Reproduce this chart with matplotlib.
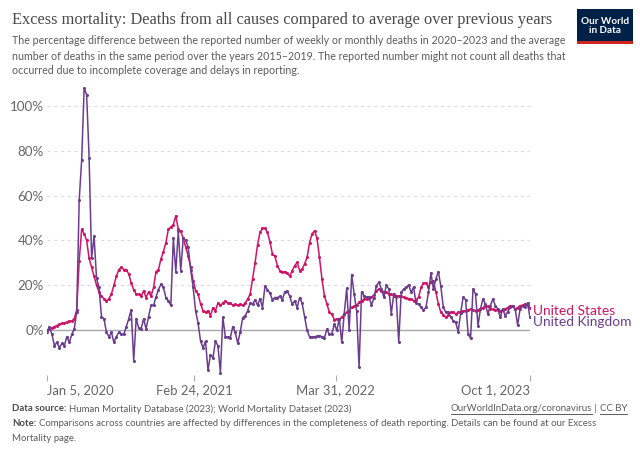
import matplotlib
matplotlib.use("Agg")
import matplotlib.pyplot as plt
import matplotlib.dates as mdates
from matplotlib.patches import Rectangle
from matplotlib.lines import Line2D
import pandas as pd

# ---------------- data ----------------
start_date = "2020-01-05"
us_values = [
    0, 0.5, 1, 1.5, 2, 2.5, 3, 3, 3.5, 4, 4, 5, 9, 31, 45, 43, 40, 32, 28, 24,
    20, 17, 15, 14, 13, 14, 16, 20, 24, 27, 28, 27, 27, 25, 21, 18, 16, 16, 15, 17.5,
    14.5, 17, 15, 19, 26, 27, 31.7, 35, 39, 45, 46, 47, 51, 45, 44, 41, 37, 33, 28, 22,
    17.6, 16, 11.6, 8.6, 7.9, 8.6, 6.4, 10, 8.6, 12, 11, 12, 13, 12, 12, 11, 11.5, 11, 11.5, 11,
    12, 13.8, 16, 22.8, 30, 38, 43.6, 45.4, 45.4, 43.6, 39.4, 34, 33, 28.7, 26.5, 25.8, 26, 25.5, 24, 26.5,
    28.7, 30.2, 26.5, 27.2, 29.5, 32.4, 39, 42.9, 44.3, 41, 32.4, 22.8, 15.3, 11.6, 7.9, 7, 4.6, 5, 5, 5.6,
    7, 7.9, 8.6, 10.1, 10.5, 11, 12.4, 13, 13.7, 14, 14.4, 14.8, 15.6, 17.6, 18.3, 17.6, 17.1, 16.8, 16, 16,
    15.3, 15.3, 15.3, 15, 14.6, 14.3, 14, 13.8, 13, 13.5, 14.6, 19, 21, 21, 19, 21.5, 22, 17, 11.6, 7.9,
    6.7, 5.6, 6.7, 7.9, 8.2, 7.1, 7.9, 8.2, 8.6, 8.6, 9, 9.4, 9, 8.6, 9, 9.4, 10, 10.9, 10.5, 9.4,
    9.2, 9, 8.8, 8.6, 9, 9.4, 10, 10.9, 10.5, 9.4, 10, 10.9, 11, 11.6, 11, 10,
]
uk_values = [
    -1, 1.5, -2, -7, -5.5, -8, -6, -7, -3, -5.5, -2, 0.5, 8, 58, 76, 108, 105, 77, 32, 42,
    23, 19, 6, 5, -1, -3, -1, -5.5, -3, -1, -2, -2, 1.5, 5, 9, -13.7, 5, 1, 0.5, 5,
    0.5, 6, 11, 11, 14.7, 18, 20.5, 19, 14.5, 13, 11, 41, 26, 44, 26.5, 41, 40, 37, 27, 19,
    8.5, 3, -5, -8, -5, -18, -11, -12.5, -5, -7, -19, 5.6, -3, -3, -3.5, 1.5, -1, -6, -1, 5.5,
    6.4, 8.6, 12, 11.6, 13.5, 11, 14, 10, 19.6, 18, 16.5, 13.5, 14.5, 14.5, 15, 13.5, 17, 17.5, 15, 11.5,
    13, 10, 14.5, 12, 6, -0.2, -3, -3, -3, -2.8, -2.5, -3, -3.5, 0.4, -2, -1.7, 2.7, -0.2, 5.1, -5.5,
    7.3, 18.6, -0.2, 24.7, 16.1, 8.6, -16.7, 17.1, 15.3, 14.6, 14.6, 11.2, 14.2, 19.8, 21.3, 18.3, 14.6, 20.1, 18.3, 7.3,
    16.1, 14.6, -5.5, 16.8, 18.3, 19.1, 20.1, 16.8, 19.1, 12.0, 11.6, 10.1, 8.9, 10.1, 16.8, 25.5, 18.3, 22.8, 26.1, 19.5,
    10.1, 7.9, 8.2, 5.7, 4.2, 3.4, -0.7, 7.6, 14.6, 13.6, -1.8, -3.7, 18.3, 16.1, 1.9, 9.4, 13.8, 11.6, 7.1, 10.9,
    13.8, 10.9, 9.4, 5.6, 9.4, 6.4, 8.2, 10.1, 10.9, 9.4, 2.2, 9.4, 10.9, 10.1, 12.1, 5.6,
]
series_names = ["United States", "United Kingdom"]
y_ticks = [0, 20, 40, 60, 80, 100]
y_tick_labels = ["0%", "20%", "40%", "60%", "80%", "100%"]
x_tick_dates = ["2020-01-05", "2021-02-24", "2022-03-31", "2023-10-01"]
x_tick_labels = ["Jan 5, 2020", "Feb 24, 2021", "Mar 31, 2022", "Oct 1, 2023"]

title = "Excess mortality: Deaths from all causes compared to average over previous years"
subtitle_lines = [
    "The percentage difference between the reported number of weekly or monthly deaths in 2020\u20132023 and the average",
    "number of deaths in the same period over the years 2015\u20132019. The reported number might not count all deaths that",
    "occurred due to incomplete coverage and delays in reporting.",
]
source_text = "Human Mortality Database (2023); World Mortality Dataset (2023)"
note_lines = [
    "Comparisons across countries are affected by differences in the completeness of death reporting. Details can be found at our Excess",
    "Mortality page.",
]

US_C = "#ce1466"
UK_C = "#6b3d8f"
TXT = "#5b5b5b"

dates = pd.date_range(start_date, periods=len(us_values), freq="7D")

W, H = 640, 452
fig = plt.figure(figsize=(W / 100, H / 100), dpi=100)
renderer = fig.canvas.get_renderer()


def fx(px):
    return px / W


def fy(py):
    return 1 - py / H


def fit(t, target_px):
    bb = t.get_window_extent(renderer)
    t.set_fontsize(t.get_fontsize() * target_px / bb.width)


def width_px(t):
    return t.get_window_extent(renderer).width


# ---------------- axes ----------------
ymin, ymax = -20, 110
px_per_unit = 2.24
y0_px = 331
top_px = y0_px - ymax * px_per_unit
bot_px = y0_px - ymin * px_per_unit
ax = fig.add_axes([fx(47), fy(bot_px), 483 / W, (bot_px - top_px) / H])
x_start = mdates.date2num(pd.Timestamp(x_tick_dates[0]))
x_end = mdates.date2num(pd.Timestamp(x_tick_dates[-1]))
ax.set_xlim(x_start, x_end)
ax.set_ylim(ymin, ymax)
for s in ax.spines.values():
    s.set_visible(False)
ax.set_yticks([])
ax.set_xticks([mdates.date2num(pd.Timestamp(d)) for d in x_tick_dates])
ax.set_xticklabels([])
ax.tick_params(axis="x", length=4, width=0.8, color="#aaaaaa", pad=2)

for v, lab in zip(y_ticks, y_tick_labels):
    if v == 0:
        ax.axhline(0, color="#a8a8a8", lw=1.0, zorder=1)
    else:
        ax.axhline(v, color="#dedede", lw=0.8, ls=(0, (3, 3)), zorder=1)
    fig.text(fx(44), fy(y0_px - v * px_per_unit), lab,
             ha="right", va="center", fontsize=9.6, color="#666666", family="Lato")

ax.plot(dates, us_values, color=US_C, lw=1.1, marker="o", ms=2.2, mew=0, zorder=3)
ax.plot(dates, uk_values, color=UK_C, lw=1.1, marker="o", ms=2.2, mew=0, zorder=4)

# x tick labels
for i, (d, lab) in enumerate(zip(x_tick_dates, x_tick_labels)):
    xd = mdates.date2num(pd.Timestamp(d))
    ha = "left" if i == 0 else ("right" if i == len(x_tick_dates) - 1 else "center")
    ax.annotate(lab, xy=(xd, 0), xycoords=("data", "axes fraction"),
                xytext=(0, -8), textcoords="offset pixels",
                ha=ha, va="top", fontsize=9.4, color="#666666", family="Lato")

# series labels
fig.text(fx(533), fy(311), series_names[0], color=US_C, fontsize=9.9,
         family="Lato", va="center", ha="left")
fig.text(fx(533), fy(322), series_names[1], color=UK_C, fontsize=9.9,
         family="Lato", va="center", ha="left")

# ---------------- header ----------------
t = fig.text(fx(12), fy(20), title, family="Liberation Serif", fontsize=13,
             color="#4a4a4a", va="center", ha="left")
fit(t, 540)
sub_y = [40, 56, 71]
sub_texts = []
for line, yy in zip(subtitle_lines, sub_y):
    st = fig.text(fx(12), fy(yy), line, family="Lato", fontsize=9.2, color=TXT,
                  va="center", ha="left")
    sub_texts.append(st)
fit(sub_texts[0], 545)
for st in sub_texts[1:]:
    st.set_fontsize(sub_texts[0].get_fontsize())

# logo
fig.patches.append(Rectangle((fx(577), fy(42)), 56 / W, 32 / H, transform=fig.transFigure,
                             facecolor="#002147", edgecolor="none"))
fig.patches.append(Rectangle((fx(577), fy(45)), 56 / W, 3 / H, transform=fig.transFigure,
                             facecolor="#ce261e", edgecolor="none"))
fig.text(fx(605), fy(26), "Our World\nin Data", color="white", fontsize=7.2,
         family="Lato", weight="bold", ha="center", va="center", linespacing=1.05)

# ---------------- footer ----------------
# determine font size so that the note line spans x 12..604
FS = 8.0
probe_b = fig.text(0, 0, "Note:", family="Lato", weight="bold", fontsize=FS)
probe_r = fig.text(0, 0, note_lines[0], family="Lato", fontsize=FS)
total = width_px(probe_b) + 3 + width_px(probe_r)
FS = FS * (604 - 12) / total
probe_b.remove()
probe_r.remove()

b1 = fig.text(fx(12), fy(409), "Data source:", family="Lato", weight="bold",
              fontsize=FS, color="#4a4a4a", va="center", ha="left")
w = width_px(b1)
fig.text(fx(12 + w + 3), fy(409), source_text,
         family="Lato", fontsize=FS, color=TXT, va="center", ha="left")
b2 = fig.text(fx(12), fy(424), "Note:", family="Lato", weight="bold",
              fontsize=FS, color="#4a4a4a", va="center", ha="left")
w2 = width_px(b2)
fig.text(fx(12 + w2 + 3), fy(424), note_lines[0],
         family="Lato", fontsize=FS, color=TXT, va="center", ha="left")
fig.text(fx(12), fy(439), note_lines[1], family="Lato", fontsize=FS, color=TXT,
         va="center", ha="left")

# right footer with underlines
r1 = fig.text(fx(627), fy(409), "CC BY", family="Lato", fontsize=FS, color=TXT,
              va="center", ha="right")
wr1 = width_px(r1)
r2 = fig.text(fx(627 - wr1), fy(409), " | ", family="Lato", fontsize=FS, color=TXT,
              va="center", ha="right")
wr2 = width_px(r2)
r3 = fig.text(fx(627 - wr1 - wr2), fy(409), "OurWorldInData.org/coronavirus",
              family="Lato", fontsize=FS, color=TXT, va="center", ha="right")
wr3 = width_px(r3)
for x0, x1 in [(627 - wr1, 627), (627 - wr1 - wr2 - wr3, 627 - wr1 - wr2)]:
    fig.lines.append(Line2D([fx(x0), fx(x1)], [fy(415), fy(415)],
                            transform=fig.transFigure, color=TXT, lw=0.7))

fig.savefig("out.png", dpi=100)
